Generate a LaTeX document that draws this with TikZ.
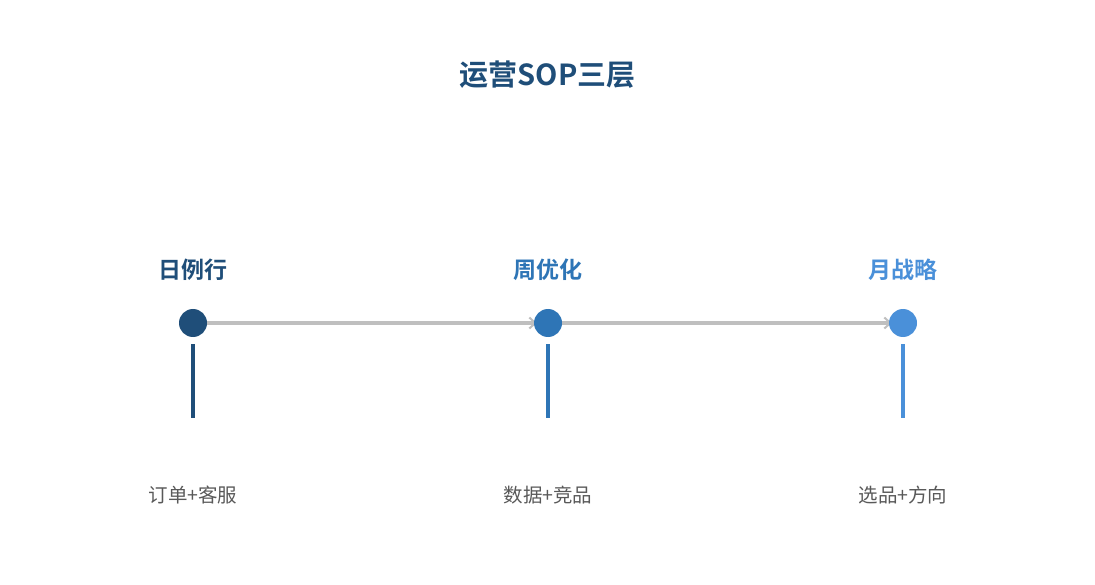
\documentclass[tikz,border=0pt]{standalone}
\usepackage{fontspec}
\setmainfont{Noto Sans CJK SC}
\newfontfamily\cjkb{Noto Sans CJK SC Bold}
\usetikzlibrary{arrows.meta,backgrounds}
\definecolor{cA}{HTML}{1F4E79}
\definecolor{cB}{HTML}{2E75B6}
\definecolor{cC}{HTML}{4A90D9}
\definecolor{cgray}{HTML}{BFBFBF}
\definecolor{ctext}{HTML}{595959}
\begin{document}
\begin{tikzpicture}[x=1pt,y=-1pt,
  dot/.style={circle,minimum size=28pt,inner sep=0pt},
  stage/.style={font=\cjkb\fontsize{23}{26}\selectfont,inner sep=0pt,anchor=center},
  sub/.style={font=\fontsize{19.5}{23}\selectfont,text=ctext,inner sep=0pt,anchor=center},
  flow/.style={draw=cgray,line width=3.5pt,shorten >=-3pt,-{Straight Barb[length=6pt,width=11pt,line width=2pt]}},
  stem/.style={line width=3.5pt}]
\useasboundingbox (0,0) rectangle (1095,585);
\node[font=\cjkb\fontsize{29}{32}\selectfont,text=cA,inner sep=0pt] (title) at (547.5,75) {运营SOP三层};
\node[dot,fill=cA] (d1) at (193,323) {};
\node[dot,fill=cB] (d2) at (548,323) {};
\node[dot,fill=cC] (d3) at (903,323) {};
\node[stage,text=cA] (l1) at (193,270) {日例行};
\node[stage,text=cB] (l2) at (548,270) {周优化};
\node[stage,text=cC] (l3) at (903,270) {月战略};
\coordinate (s1a) at (193,344); \coordinate (s1b) at (193,418);
\coordinate (s2a) at (548,344); \coordinate (s2b) at (548,418);
\coordinate (s3a) at (903,344); \coordinate (s3b) at (903,418);
\draw[stem,cA] (s1a) -- (s1b);
\draw[stem,cB] (s2a) -- (s2b);
\draw[stem,cC] (s3a) -- (s3b);
\begin{scope}[on background layer]
\fill[white] (0,0) rectangle (1095,585);
\draw[flow] (d1) -- (d2);
\draw[flow] (d2) -- (d3);
\end{scope}
\node[sub] (t1) at (193,495) {订单+客服};
\node[sub] (t2) at (548,495) {数据+竞品};
\node[sub] (t3) at (903,495) {选品+方向};
\end{tikzpicture}
\end{document}
